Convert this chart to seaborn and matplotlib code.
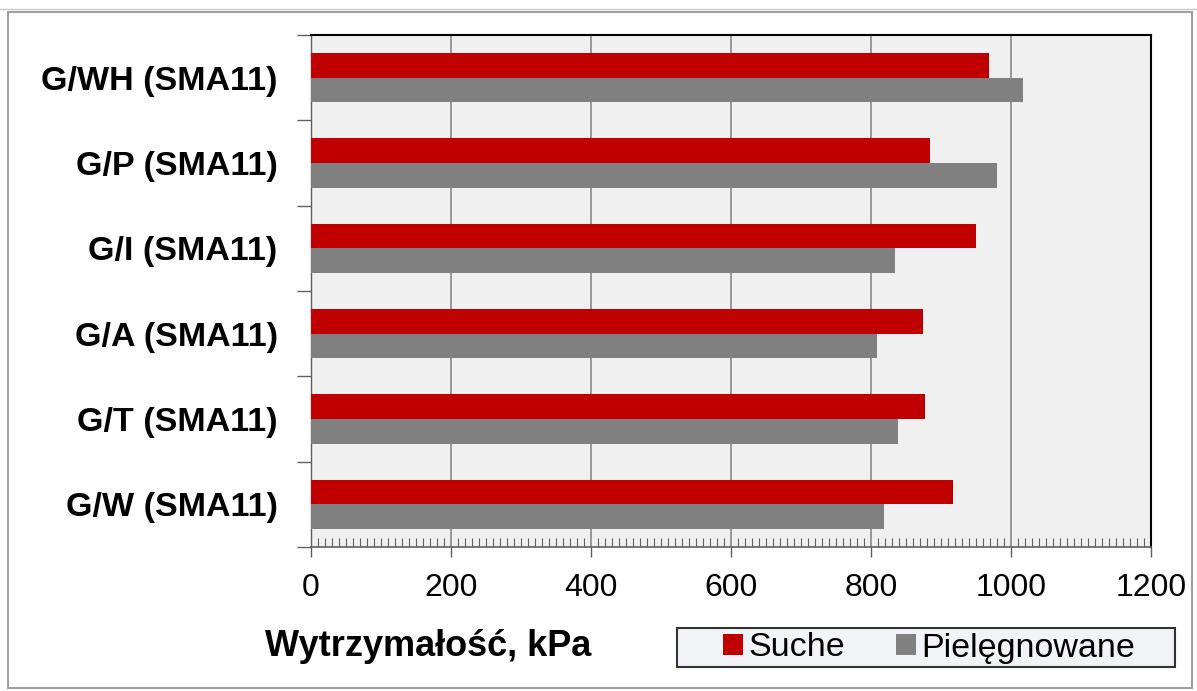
import matplotlib
matplotlib.use("Agg")
import matplotlib.pyplot as plt
import seaborn as sns
import pandas as pd
from matplotlib.patches import Rectangle, Patch
from matplotlib.lines import Line2D
from matplotlib.ticker import MultipleLocator

categories = ["G/WH (SMA11)", "G/P (SMA11)", "G/I (SMA11)", "G/A (SMA11)", "G/T (SMA11)", "G/W (SMA11)"]
series_names = ["Suche", "Pielęgnowane"]
suche = [968, 884, 950, 874, 877, 917]
pielegnowane = [1017, 980, 834, 809, 839, 818]
x_ticks = [0, 200, 400, 600, 800, 1000, 1200]
x_label = "Wytrzymałość, kPa"

df = pd.DataFrame({
    "Mieszanka": categories * 2,
    "Seria": [series_names[0]] * len(categories) + [series_names[1]] * len(categories),
    "Wartosc": suche + pielegnowane,
})

sns.set_theme(style="white")
plt.rcParams["font.family"] = ["Liberation Sans", "DejaVu Sans"]
plt.rcParams["text.color"] = "black"
plt.rcParams["xtick.labelcolor"] = "black"
plt.rcParams["ytick.labelcolor"] = "black"

W, H = 1197, 691
fig = plt.figure(figsize=(W / 100, H / 100), dpi=100)
fig.patch.set_facecolor("white")

def fx(px):
    return px / W

def fy(py):
    return 1 - py / H

ax = fig.add_axes([fx(311), fy(547), fx(1151) - fx(311), (547 - 35) / H])
ax.set_facecolor("#F0F0F0")

palette = {"Suche": "#C00000", "Pielęgnowane": "#808080"}
sns.barplot(data=df, x="Wartosc", y="Mieszanka", hue="Seria", order=categories,
            hue_order=series_names, palette=palette, orient="h", width=0.58,
            saturation=1, ax=ax, legend=False, zorder=3)
for p in ax.patches:
    p.set_edgecolor("none")

ax.set_xlim(0, 1200)
ax.set_ylim(len(categories) - 0.5, -0.5)
ax.set_xticks(x_ticks)
ax.set_xticklabels([str(t) for t in x_ticks])
ax.xaxis.set_minor_locator(MultipleLocator(10))
ax.set_yticks([i - 0.5 for i in range(len(categories) + 1)], minor=True)

ax.grid(axis="x", which="major", color="#808080", linewidth=1.1, zorder=1)
ax.set_axisbelow(True)

ax.tick_params(axis="x", which="major", direction="out", length=7.5, width=1,
               color="#606060", labelcolor="black", labelsize=23, pad=11, bottom=True)
ax.tick_params(axis="x", which="minor", direction="in", length=6.5, width=0.8,
               color="#606060", bottom=True)
ax.tick_params(axis="y", which="major", length=0, pad=24, labelsize=24.5,
               labelcolor="black")
ax.tick_params(axis="y", which="minor", direction="out", length=10, width=1,
               color="#606060", left=True)
for lab in ax.get_yticklabels():
    lab.set_fontweight("bold")

ax.set_xlabel("")
ax.set_ylabel("")

for side in ["top", "right"]:
    ax.spines[side].set_visible(True)
    ax.spines[side].set_color("black")
    ax.spines[side].set_linewidth(1.5)
ax.spines["left"].set_color("#606060")
ax.spines["left"].set_linewidth(1)
ax.spines["bottom"].set_color("#606060")
ax.spines["bottom"].set_linewidth(1.2)

# x axis title
fig.text(fx(265), fy(656), x_label, fontsize=26, fontweight="bold",
         ha="left", va="baseline", color="black")

# legend box
fig.patches.append(Rectangle((fx(677), fy(667)), fx(1175) - fx(677), (667 - 628) / H,
                             transform=fig.transFigure, facecolor="#F2F3F7",
                             edgecolor="#333333", linewidth=1.5, zorder=1))
handles = [Patch(facecolor=palette[s], edgecolor="none") for s in series_names]
leg = fig.legend(handles, series_names, loc="center",
                 bbox_to_anchor=(fx(929), fy(648)),
                 frameon=False, ncol=2, fontsize=24.5, handlelength=0.6, handleheight=0.6,
                 handletextpad=0.15, columnspacing=1.5, borderpad=0)
for t in leg.get_texts():
    t.set_color("black")

# outer frame
fig.patches.append(Rectangle((fx(8), fy(688)), fx(1192) - fx(8), (688 - 12) / H,
                             transform=fig.transFigure, facecolor="none",
                             edgecolor="#A0A0A0", linewidth=1.5, zorder=0))
fig.lines.append(Line2D([fx(0), fx(1197)], [fy(9), fy(9)], transform=fig.transFigure,
                        color="#C8C8C8", linewidth=1))

fig.savefig("out.png", dpi=100, facecolor="white")
